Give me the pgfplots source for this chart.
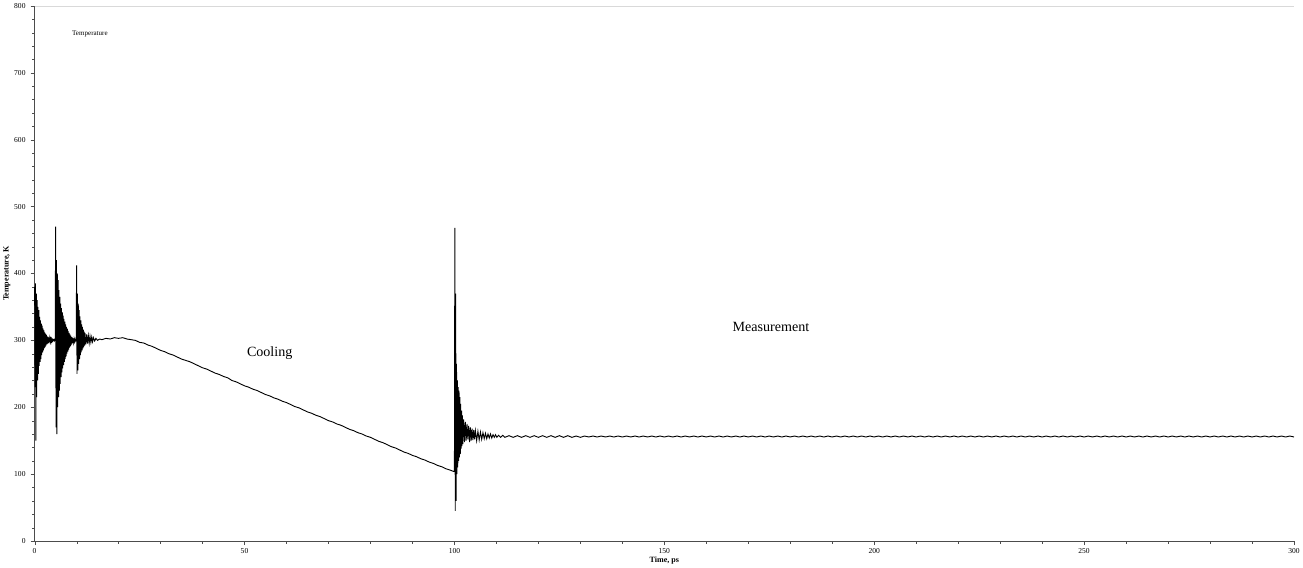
\documentclass[border=0pt]{standalone}
\usepackage{fontspec}
\setmainfont{Liberation Serif}
\usepackage{pgfplots}
\pgfplotsset{compat=1.18}

\begin{document}
\begin{tikzpicture}
\begin{axis}[
    scale only axis,
    width=1252pt, height=532pt,
    xmin=0, xmax=300, ymin=0, ymax=800,
    axis lines=left,
    axis line style={-, black!70},
    xtick={0,50,...,300},
    ytick={0,100,...,800},
    minor x tick num=4,
    minor y tick num=4,
    tick align=outside,
    major tick length=4pt,
    minor tick length=2.5pt,
    tick style={black!70},
    tick label style={font=\fontsize{7.5}{8}\selectfont},
    yticklabel style={xshift=-1.5pt},
    /pgf/number format/assume math mode=true,
    xlabel={\textbf{Time, ps}},
    ylabel={\textbf{Temperature, K}},
    label style={font=\fontsize{8}{9}\selectfont},
    xlabel style={yshift=4pt},
    ylabel style={yshift=-3pt},
    clip=false,
]
% faint frame at the top
\draw[black!15] (rel axis cs:0,1) -- (rel axis cs:1,1);

\addplot[black, line width=0.9pt] coordinates {
(0.0,380) (0.1,230) (0.2,385) (0.3,150) (0.4,370) (0.5,215) (0.6,360) (0.7,240)
(0.8,350) (0.9,250) (1.0,345) (1.1,262) (1.2,335) (1.3,268) (1.4,330) (1.5,272)
(1.6,325) (1.7,278) (1.8,322) (1.9,282) (2.0,318) (2.1,285) (2.2,315) (2.3,288)
(2.4,312) (2.5,290) (2.6,310) (2.7,292) (2.8,308) (2.9,294) (3.0,306) (3.1,295)
(3.2,305) (3.3,296) (3.4,304) (3.5,297) (3.6,303) (3.7,298) (3.8,302) (3.9,298)
(4.0,302) (4.1,299) (4.2,301) (4.3,299) (4.4,301) (4.5,300) (4.6,301) (4.7,299)
(4.8,300) (4.9,300)
(5.0,470) (5.1,170) (5.2,420) (5.3,160) (5.4,400) (5.5,200) (5.6,390) (5.7,215)
(5.8,375) (5.9,225) (6.0,365) (6.1,235) (6.2,355) (6.3,245) (6.4,348) (6.5,252)
(6.6,342) (6.7,258) (6.8,337) (6.9,263) (7.0,332) (7.1,268) (7.2,328) (7.3,272)
(7.4,324) (7.5,276) (7.6,320) (7.7,280) (7.8,317) (7.9,283) (8.0,314) (8.1,286)
(8.2,311) (8.3,289) (8.4,309) (8.5,291) (8.6,307) (8.7,293) (8.8,305) (8.9,295)
(9.0,304) (9.1,296) (9.2,303) (9.3,297) (9.4,302) (9.5,298) (9.6,301) (9.7,299)
(9.8,301) (9.9,300)
(10.0,412) (10.1,250) (10.2,370) (10.3,255) (10.4,355) (10.5,265) (10.6,345) (10.7,272)
(10.8,336) (10.9,278) (11.0,330) (11.1,282) (11.2,324) (11.3,285) (11.4,320) (11.5,288)
(11.6,316) (11.7,290) (11.8,313) (11.9,292) (12.0,311) (12.2,294) (12.4,309) (12.6,295)
(12.8,307) (13.0,296) (13.2,306) (13.4,297) (13.6,305) (13.8,298) (14.0,304) (14.3,299)
(14.6,303) (15.0,300) (15.5,302) (16,301) (17,303) (18,302) (19,304) (20,303)
(21,304) (22,302) (23,301) (24,300) (25,297) (26,296) (27,293) (28,291) (29,288)
(30,285) (31,283) (32,280) (33,278) (34,275) (35,272) (36,270) (37,268) (38,265)
(39,262) (40,259) (41,257) (42,254) (43,251) (44,249) (45,246) (46,244) (47,240)
(48,238) (49,235) (50,232) (51,230) (52,227) (53,225) (54,222) (55,219) (56,217)
(57,214) (58,212) (59,209) (60,207) (61,204) (62,201) (63,199) (64,196) (65,193)
(66,191) (67,188) (68,186) (69,183) (70,180) (71,178) (72,175) (73,173) (74,170)
(75,167) (76,165) (77,162) (78,160) (79,157) (80,155) (81,152) (82,149) (83,147)
(84,144) (85,141) (86,139) (87,136) (88,133) (89,131) (90,128) (91,126) (92,123)
(93,121) (94,118) (95,116) (96,113) (97,111) (98,108) (99,106) (99.8,104)
(100.0,104) (100.1,468) (100.2,45) (100.3,370) (100.4,60) (100.5,265) (100.6,100)
(100.7,240) (100.8,110) (100.9,230) (101.0,120) (101.1,225) (101.2,125) (101.3,215)
(101.4,130) (101.5,205) (101.6,138) (101.7,195) (101.8,142) (101.9,188) (102.0,145)
(102.2,182) (102.4,148) (102.6,178) (102.8,150) (103.0,175) (103.2,152) (103.4,172)
(103.6,148) (103.8,170) (104.0,150) (104.2,168) (104.4,151) (104.6,166) (104.8,152)
(105.0,165) (105.3,150) (105.6,164) (105.9,151) (106.2,163) (106.5,152) (106.8,162)
(107.1,153) (107.4,161) (107.7,153) (108.0,160) (108.3,154) (108.6,160) (108.9,154)
(109.2,159) (109.5,155) (109.8,159) (110.1,155) (110.5,158) (111,155) (111.5,158)
(112,155) (113,157.5) (114,155) (115,157.5) (116,155) (117,157.5) (118,155)
(119,157.5) (120,155) (121,157.5) (122,155) (123,157.5) (124,155) (125,157.5)
(126,155) (127,157.5) (128,155) (129,157) (130,155) (131,157) (132,155.5) (133,157)
(134,155.5) (135,157) (136,155.5) (137,157) (138,155.5) (139,157) (140,155.5)
(141,157) (142,155.5) (143,157) (144,155.5) (145,157) (146,155.5) (147,157)
(148,155.5) (149,157) (150,155.5) (151,157) (152,155.5) (153,157) (154,155.5)
(155,157) (156,155.5) (157,157) (158,155.5) (159,157) (160,155.5) (161,157)
(162,155.5) (163,157) (164,155.5) (165,157) (166,155.5) (167,157) (168,155.5)
(169,157) (170,155.5) (171,157) (172,155.5) (173,157) (174,155.5) (175,157)
(176,155.5) (177,157) (178,155.5) (179,157) (180,155.5) (181,157) (182,155.5)
(183,157) (184,155.5) (185,157) (186,155.5) (187,157) (188,155.5) (189,157)
(190,155.5) (191,157) (192,155.5) (193,157) (194,155.5) (195,157) (196,155.5)
(197,157) (198,155.5) (199,157) (200,155.5) (201,157) (202,155.5) (203,157)
(204,155.5) (205,157) (206,155.5) (207,157) (208,155.5) (209,157) (210,155.5)
(211,157) (212,155.5) (213,157) (214,155.5) (215,157) (216,155.5) (217,157)
(218,155.5) (219,157) (220,155.5) (221,157) (222,155.5) (223,157) (224,155.5)
(225,157) (226,155.5) (227,157) (228,155.5) (229,157) (230,155.5) (231,157)
(232,155.5) (233,157) (234,155.5) (235,157) (236,155.5) (237,157) (238,155.5)
(239,157) (240,155.5) (241,157) (242,155.5) (243,157) (244,155.5) (245,157)
(246,155.5) (247,157) (248,155.5) (249,157) (250,155.5) (251,157) (252,155.5)
(253,157) (254,155.5) (255,157) (256,155.5) (257,157) (258,155.5) (259,157)
(260,155.5) (261,157) (262,155.5) (263,157) (264,155.5) (265,157) (266,155.5)
(267,157) (268,155.5) (269,157) (270,155.5) (271,157) (272,155.5) (273,157)
(274,155.5) (275,157) (276,155.5) (277,157) (278,155.5) (279,157) (280,155.5)
(281,157) (282,155.5) (283,157) (284,155.5) (285,157) (286,155.5) (287,157)
(288,155.5) (289,157) (290,155.5) (291,157) (292,155.5) (293,157) (294,155.5)
(295,157) (296,155.5) (297,157) (298,155.5) (299,157) (300,155.5)
};

\node[anchor=west, font=\fontsize{7}{8}\selectfont] at (axis cs:8.1,758) {Temperature};
\node[font=\fontsize{14}{16}\selectfont] at (axis cs:56,281) {Cooling};
\node[font=\fontsize{14}{16}\selectfont] at (axis cs:175.4,320) {Measurement};
\end{axis}
\end{tikzpicture}
\end{document}
